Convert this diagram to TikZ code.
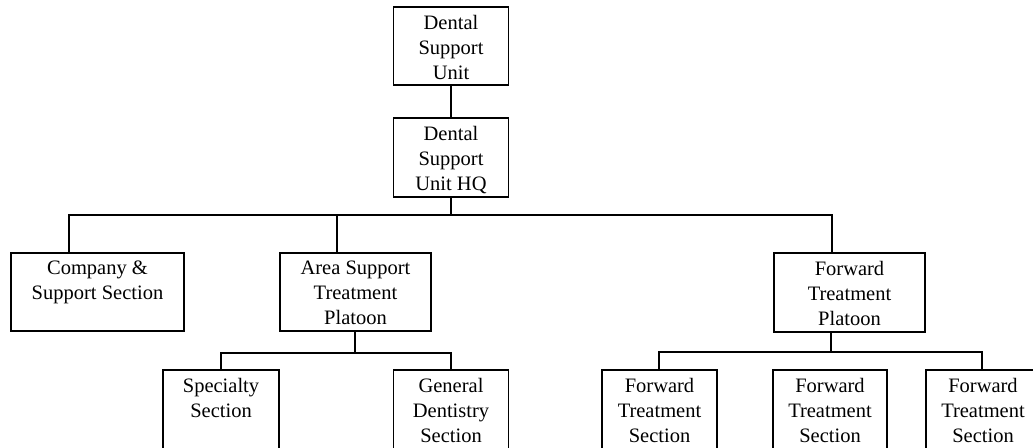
\documentclass[tikz,border=0pt]{standalone}
\usepackage{fontspec}
\setmainfont{Liberation Serif}
\begin{document}
\begin{tikzpicture}[x=1pt,y=-1pt,
  unitbox/.style={draw, rectangle, line width=1.8pt, inner sep=0pt, minimum height=78pt},
  boxtext/.style={anchor=north, yshift=-9pt, inner sep=0pt, align=center,
    font=\fontsize{20.5}{25}\selectfont, execute at begin node=\strut},
  link/.style={line width=1.6pt, line join=miter},
]
\path[use as bounding box, clip] (0,0) rectangle (1033,447);

% command levels
\node[unitbox, minimum width=115pt, label={[boxtext]north:{Dental\\Support\\Unit}}] (dsu) at (451,46) {};
\node[unitbox, minimum width=115pt, minimum height=79pt, label={[boxtext]north:{Dental\\Support\\Unit HQ}}] (hq) at (451,157.5) {};

% platoons and sections
\node[unitbox, minimum width=173pt, label={[boxtext]north:{Company \&\\Support Section}}] (css) at (97.5,292) {};
\node[unitbox, minimum width=151pt, label={[boxtext]north:{Area Support\\Treatment\\Platoon}}] (astp) at (355.5,292) {};
\node[unitbox, minimum width=151pt, minimum height=79pt, label={[boxtext]north:{Forward\\Treatment\\Platoon}}] (ftp) at (849.5,292.5) {};

% lowest level (runs off the page edge)
\node[unitbox, minimum width=116pt, minimum height=100pt, label={[boxtext]north:{Specialty\\Section}}] (spec) at (221,420) {};
\node[unitbox, minimum width=115pt, minimum height=100pt, label={[boxtext]north:{General\\Dentistry\\Section}}] (gen) at (451,420) {};
\node[unitbox, minimum width=115pt, minimum height=100pt, label={[boxtext]north:{Forward\\Treatment\\Section}}] (fts1) at (659.5,420) {};
\node[unitbox, minimum width=114pt, minimum height=100pt, label={[boxtext]north:{Forward\\Treatment\\Section}}] (fts2) at (830,420) {};
\node[unitbox, minimum width=114pt, minimum height=100pt, label={[boxtext]north:{Forward\\Treatment\\Section}}] (fts3) at (983,420) {};

% bus junctions
\coordinate (busA) at (451,215);
\coordinate (busL) at (69,215);
\coordinate (busR) at (832,215);
\coordinate (busM) at (337,215);
\coordinate (asA) at (355,353);
\coordinate (asL) at (221,353);
\coordinate (asR) at (451,353);
\coordinate (ftA) at (831,352);
\coordinate (ftL) at (659,352);
\coordinate (ftR) at (982,352);

% connectors
\draw[link] (dsu) -- (hq);
\draw[link] (hq.south) -- (busA);
\draw[link] (busL |- css.north) -- (busL) -- (busR) -- (busR |- ftp.north);
\draw[link] (busM) -- (busM |- astp.north);
\draw[link] (astp.south -| asA) -- (asA);
\draw[link] (asL |- spec.north) -- (asL) -- (asR) -- (asR |- gen.north);
\draw[link] (ftp.south -| ftA) -- (ftA);
\draw[link] (ftL |- fts1.north) -- (ftL) -- (ftR) -- (ftR |- fts3.north);
\end{tikzpicture}
\end{document}
